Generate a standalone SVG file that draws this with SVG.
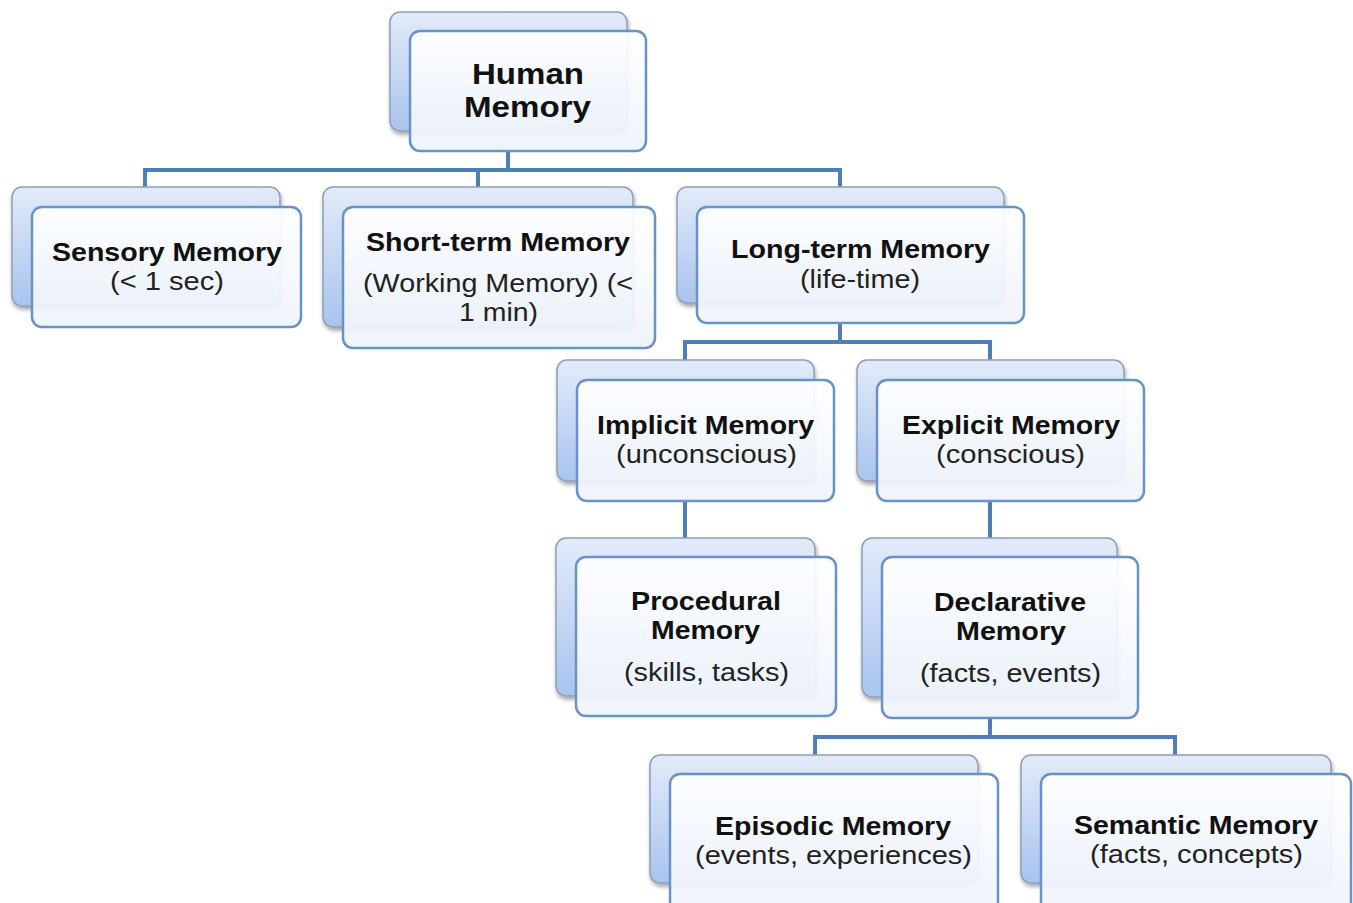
<svg xmlns="http://www.w3.org/2000/svg" width="1353" height="903" viewBox="0 0 1353 903">
<defs>
<linearGradient id="gBack" x1="0" y1="0" x2="0" y2="1">
<stop offset="0" stop-color="#e2ebf9"/>
<stop offset="1" stop-color="#a9c4ee"/>
</linearGradient>
<linearGradient id="gFront" x1="0" y1="0" x2="0" y2="1">
<stop offset="0" stop-color="#ffffff"/>
<stop offset="1" stop-color="#eef3fb"/>
</linearGradient>
<filter id="sh" x="-10%" y="-10%" width="130%" height="130%">
<feGaussianBlur in="SourceAlpha" stdDeviation="2"/>
<feOffset dx="1" dy="3" result="b"/>
<feComponentTransfer><feFuncA type="linear" slope="0.35"/></feComponentTransfer>
<feMerge><feMergeNode/><feMergeNode in="SourceGraphic"/></feMerge>
</filter>
</defs>
<style>
.back{fill:url(#gBack);stroke:#8e9fb8;stroke-width:1.5;filter:url(#sh)}
.front{fill:url(#gFront);fill-opacity:0.93;stroke:#6a92c8;stroke-width:2.5}
.t{font-family:"Liberation Sans",Arial,sans-serif;font-weight:bold;font-size:26px;fill:#111;text-anchor:start}
.s{font-family:"Liberation Sans",Arial,sans-serif;font-size:26px;fill:#222;text-anchor:start}
.h{font-family:"Liberation Sans",Arial,sans-serif;font-weight:bold;font-size:30px;fill:#111}
.c{fill:none;stroke:#4f7fb8;stroke-width:4}
</style>
<rect width="1353" height="903" fill="#ffffff"/>
<g id="connectors">
<path class="c" d="M508 151 V170 M145 187 V170 H840 V187 M478 170 V187"/>
<path class="c" d="M840 323 V342 M685 360 V342 H990 V360"/>
<path class="c" d="M685 501 V538"/>
<path class="c" d="M990 501 V538"/>
<path class="c" d="M990 718 V737 M815 755 V737 H1175 V755"/>
</g>
<g id="human">
<rect class="back" x="390" y="12" width="237" height="119" rx="10"/>
<rect class="front" x="410" y="31" width="236" height="120" rx="10"/>
<text class="h" x="472" y="84" textLength="112" lengthAdjust="spacingAndGlyphs">Human</text>
<text class="h" x="464" y="117" textLength="127" lengthAdjust="spacingAndGlyphs">Memory</text>
</g>
<g id="sensory">
<rect class="back" x="12" y="187" width="268" height="119" rx="10"/>
<rect class="front" x="32" y="207" width="269" height="120" rx="10"/>
<text class="t" x="52" y="261" textLength="230" lengthAdjust="spacingAndGlyphs">Sensory Memory</text>
<text class="s" x="110" y="290" textLength="114" lengthAdjust="spacingAndGlyphs">(&lt; 1 sec)</text>
</g>
<g id="shortterm">
<rect class="back" x="323" y="187" width="310" height="140" rx="10"/>
<rect class="front" x="343" y="207" width="312" height="141" rx="10"/>
<text class="t" x="366" y="251" textLength="264" lengthAdjust="spacingAndGlyphs">Short-term Memory</text>
<text class="s" x="363" y="292" textLength="270" lengthAdjust="spacingAndGlyphs">(Working Memory) (&lt;</text>
<text class="s" x="459" y="321" textLength="79" lengthAdjust="spacingAndGlyphs">1 min)</text>
</g>
<g id="longterm">
<rect class="back" x="677" y="187" width="327" height="116" rx="10"/>
<rect class="front" x="697" y="207" width="327" height="116" rx="10"/>
<text class="t" x="731" y="258" textLength="259" lengthAdjust="spacingAndGlyphs">Long-term Memory</text>
<text class="s" x="800" y="288" textLength="120" lengthAdjust="spacingAndGlyphs">(life-time)</text>
</g>
<g id="implicit">
<rect class="back" x="557" y="360" width="257" height="121" rx="10"/>
<rect class="front" x="577" y="380" width="257" height="121" rx="10"/>
<text class="t" x="597" y="434" textLength="217" lengthAdjust="spacingAndGlyphs">Implicit Memory</text>
<text class="s" x="616" y="463" textLength="181" lengthAdjust="spacingAndGlyphs">(unconscious)</text>
</g>
<g id="explicit">
<rect class="back" x="857" y="360" width="267" height="121" rx="10"/>
<rect class="front" x="877" y="380" width="267" height="121" rx="10"/>
<text class="t" x="902" y="434" textLength="218" lengthAdjust="spacingAndGlyphs">Explicit Memory</text>
<text class="s" x="936" y="463" textLength="149" lengthAdjust="spacingAndGlyphs">(conscious)</text>
</g>
<g id="procedural">
<rect class="back" x="556" y="538" width="259" height="158" rx="10"/>
<rect class="front" x="576" y="557" width="260" height="159" rx="10"/>
<text class="t" x="631" y="610" textLength="150" lengthAdjust="spacingAndGlyphs">Procedural</text>
<text class="t" x="651" y="639" textLength="109" lengthAdjust="spacingAndGlyphs">Memory</text>
<text class="s" x="624" y="681" textLength="165" lengthAdjust="spacingAndGlyphs">(skills, tasks)</text>
</g>
<g id="declarative">
<rect class="back" x="862" y="538" width="255" height="159" rx="10"/>
<rect class="front" x="882" y="557" width="256" height="161" rx="10"/>
<text class="t" x="934" y="611" textLength="152" lengthAdjust="spacingAndGlyphs">Declarative</text>
<text class="t" x="956" y="640" textLength="110" lengthAdjust="spacingAndGlyphs">Memory</text>
<text class="s" x="920" y="682" textLength="181" lengthAdjust="spacingAndGlyphs">(facts, events)</text>
</g>
<g id="episodic">
<rect class="back" x="650" y="755" width="328" height="128" rx="10"/>
<rect class="front" x="670" y="774" width="328" height="140" rx="10"/>
<text class="t" x="715" y="835" textLength="236" lengthAdjust="spacingAndGlyphs">Episodic Memory</text>
<text class="s" x="695" y="864" textLength="277" lengthAdjust="spacingAndGlyphs">(events, experiences)</text>
</g>
<g id="semantic">
<rect class="back" x="1021" y="755" width="310" height="128" rx="10"/>
<rect class="front" x="1041" y="774" width="310" height="140" rx="10"/>
<text class="t" x="1074" y="834" textLength="244" lengthAdjust="spacingAndGlyphs">Semantic Memory</text>
<text class="s" x="1090" y="863" textLength="213" lengthAdjust="spacingAndGlyphs">(facts, concepts)</text>
</g>
</svg>
